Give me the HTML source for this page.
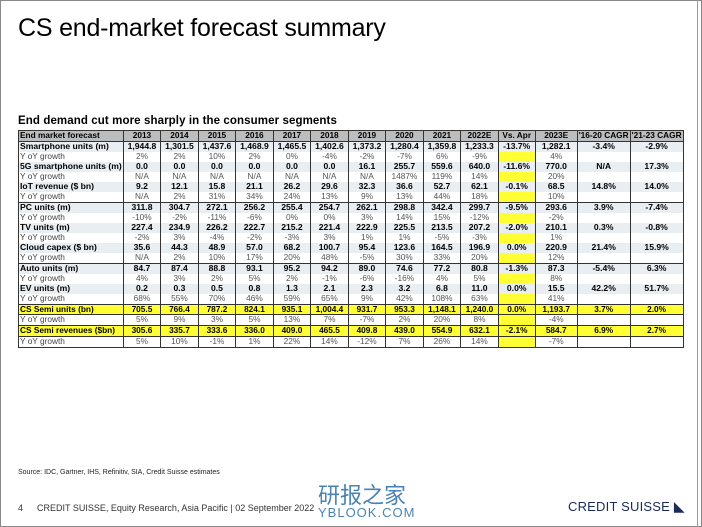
<!DOCTYPE html>
<html><head><meta charset="utf-8"><style>
body{margin:0;width:702px;height:527px;overflow:hidden;background:#fff;font-family:"Liberation Sans",sans-serif;position:relative}
.frame{position:absolute;left:0;top:0;width:700px;height:525px;border:1px solid #888}
.rline{position:absolute;left:697px;top:0;width:1px;height:527px;background:#999}
h1{position:absolute;left:18px;top:14px;margin:0;font-weight:normal;font-size:25px;letter-spacing:-0.2px;color:#000}
.sub{position:absolute;left:18px;top:115px;font-size:11.5px;font-weight:bold;letter-spacing:0.1px}
table{position:absolute;left:18px;top:130px;border-collapse:collapse;table-layout:fixed;font-size:8.3px;border:1.5px solid #333}
td{height:10.1px;padding:0 1px;line-height:9.8px;text-align:center;white-space:nowrap;overflow:hidden;border-left:1.5px solid #333;box-sizing:border-box}
td:first-child{text-align:left;border-left:none}
tr.h td{background:#bdbdbd;font-weight:bold;border-bottom:1.5px solid #333}
tr.b td{font-weight:bold;font-size:8.6px;background:#e9eef3}
tr.g td{color:#555}
tr.g td:first-child{color:#444}
tr.sep td{border-bottom:1.5px solid #333}
tr.y td{background:#ffff33;font-weight:bold;border-top:1.5px solid #333;border-bottom:1px solid #333}
td.va{background:#ffff33}
.src{position:absolute;left:18px;top:469px;font-size:7px;color:#222}
.foot{position:absolute;left:18px;top:503px;font-size:9px;color:#333}
.cs{position:absolute;left:568px;top:498px;font-size:13px;color:#1a2a5a;letter-spacing:0.2px}
.wm{position:absolute;left:318px;top:478px;font-family:"Noto Sans CJK SC",sans-serif;font-size:22px;color:#2a6ea8;opacity:.85}
.wm2{position:absolute;left:318px;top:505px;font-size:13px;color:#2a6ea8;opacity:.85;letter-spacing:1px}
</style></head><body>
<div class="frame"></div><div class="rline"></div>
<h1>CS end-market forecast summary</h1>
<div class="sub">End demand cut more sharply in the consumer segments</div>
<table>
<colgroup><col style="width:103px"><col style="width:37.5px"><col style="width:37.5px"><col style="width:37.5px"><col style="width:37.5px"><col style="width:37.5px"><col style="width:37.5px"><col style="width:37.5px"><col style="width:37.5px"><col style="width:37.5px"><col style="width:37.5px"><col style="width:37px"><col style="width:42px"><col style="width:50px"><col style="width:51px"></colgroup>
<tr class="h"><td>End market forecast</td><td>2013</td><td>2014</td><td>2015</td><td>2016</td><td>2017</td><td>2018</td><td>2019</td><td>2020</td><td>2021</td><td>2022E</td><td style="background:#bdbdbd">Vs. Apr</td><td>2023E</td><td>'16-20 CAGR</td><td>'21-23 CAGR</td></tr>
<tr class="b"><td>Smartphone units (m)</td><td>1,944.8</td><td>1,301.5</td><td>1,437.6</td><td>1,468.9</td><td>1,465.5</td><td>1,402.6</td><td>1,373.2</td><td>1,280.4</td><td>1,359.8</td><td>1,233.3</td><td class="va">-13.7%</td><td>1,282.1</td><td>-3.4%</td><td>-2.9%</td></tr>
<tr class="g"><td>Y oY growth</td><td>2%</td><td>2%</td><td>10%</td><td>2%</td><td>0%</td><td>-4%</td><td>-2%</td><td>-7%</td><td>6%</td><td>-9%</td><td class="va"></td><td>4%</td><td></td><td></td></tr>
<tr class="b"><td>5G smartphone units (m)</td><td>0.0</td><td>0.0</td><td>0.0</td><td>0.0</td><td>0.0</td><td>0.0</td><td>16.1</td><td>255.7</td><td>559.6</td><td>640.0</td><td class="va">-11.6%</td><td>770.0</td><td>N/A</td><td>17.3%</td></tr>
<tr class="g"><td>Y oY growth</td><td>N/A</td><td>N/A</td><td>N/A</td><td>N/A</td><td>N/A</td><td>N/A</td><td>N/A</td><td>1487%</td><td>119%</td><td>14%</td><td class="va"></td><td>20%</td><td></td><td></td></tr>
<tr class="b"><td>IoT revenue ($ bn)</td><td>9.2</td><td>12.1</td><td>15.8</td><td>21.1</td><td>26.2</td><td>29.6</td><td>32.3</td><td>36.6</td><td>52.7</td><td>62.1</td><td class="va">-0.1%</td><td>68.5</td><td>14.8%</td><td>14.0%</td></tr>
<tr class="g sep"><td>Y oY growth</td><td>N/A</td><td>2%</td><td>31%</td><td>34%</td><td>24%</td><td>13%</td><td>9%</td><td>13%</td><td>44%</td><td>18%</td><td class="va"></td><td>10%</td><td></td><td></td></tr>
<tr class="b"><td>PC units (m)</td><td>311.8</td><td>304.7</td><td>272.1</td><td>256.2</td><td>255.4</td><td>254.7</td><td>262.1</td><td>298.8</td><td>342.4</td><td>299.7</td><td class="va">-9.5%</td><td>293.6</td><td>3.9%</td><td>-7.4%</td></tr>
<tr class="g"><td>Y oY growth</td><td>-10%</td><td>-2%</td><td>-11%</td><td>-6%</td><td>0%</td><td>0%</td><td>3%</td><td>14%</td><td>15%</td><td>-12%</td><td class="va"></td><td>-2%</td><td></td><td></td></tr>
<tr class="b"><td>TV units (m)</td><td>227.4</td><td>234.9</td><td>226.2</td><td>222.7</td><td>215.2</td><td>221.4</td><td>222.9</td><td>225.5</td><td>213.5</td><td>207.2</td><td class="va">-2.0%</td><td>210.1</td><td>0.3%</td><td>-0.8%</td></tr>
<tr class="g"><td>Y oY growth</td><td>-2%</td><td>3%</td><td>-4%</td><td>-2%</td><td>-3%</td><td>3%</td><td>1%</td><td>1%</td><td>-5%</td><td>-3%</td><td class="va"></td><td>1%</td><td></td><td></td></tr>
<tr class="b"><td>Cloud capex ($ bn)</td><td>35.6</td><td>44.3</td><td>48.9</td><td>57.0</td><td>68.2</td><td>100.7</td><td>95.4</td><td>123.6</td><td>164.5</td><td>196.9</td><td class="va">0.0%</td><td>220.9</td><td>21.4%</td><td>15.9%</td></tr>
<tr class="g sep"><td>Y oY growth</td><td>N/A</td><td>2%</td><td>10%</td><td>17%</td><td>20%</td><td>48%</td><td>-5%</td><td>30%</td><td>33%</td><td>20%</td><td class="va"></td><td>12%</td><td></td><td></td></tr>
<tr class="b"><td>Auto units (m)</td><td>84.7</td><td>87.4</td><td>88.8</td><td>93.1</td><td>95.2</td><td>94.2</td><td>89.0</td><td>74.6</td><td>77.2</td><td>80.8</td><td class="va">-1.3%</td><td>87.3</td><td>-5.4%</td><td>6.3%</td></tr>
<tr class="g"><td>Y oY growth</td><td>4%</td><td>3%</td><td>2%</td><td>5%</td><td>2%</td><td>-1%</td><td>-6%</td><td>-16%</td><td>4%</td><td>5%</td><td class="va"></td><td>8%</td><td></td><td></td></tr>
<tr class="b"><td>EV units (m)</td><td>0.2</td><td>0.3</td><td>0.5</td><td>0.8</td><td>1.3</td><td>2.1</td><td>2.3</td><td>3.2</td><td>6.8</td><td>11.0</td><td class="va">0.0%</td><td>15.5</td><td>42.2%</td><td>51.7%</td></tr>
<tr class="g"><td>Y oY growth</td><td>68%</td><td>55%</td><td>70%</td><td>46%</td><td>59%</td><td>65%</td><td>9%</td><td>42%</td><td>108%</td><td>63%</td><td class="va"></td><td>41%</td><td></td><td></td></tr>
<tr class="y"><td>CS Semi units (bn)</td><td>705.5</td><td>766.4</td><td>787.2</td><td>824.1</td><td>935.1</td><td>1,004.4</td><td>931.7</td><td>953.3</td><td>1,148.1</td><td>1,240.0</td><td>0.0%</td><td>1,193.7</td><td>3.7%</td><td>2.0%</td></tr>
<tr class="g"><td>Y oY growth</td><td>5%</td><td>9%</td><td>3%</td><td>5%</td><td>13%</td><td>7%</td><td>-7%</td><td>2%</td><td>20%</td><td>8%</td><td class="va"></td><td>-4%</td><td></td><td></td></tr>
<tr class="y"><td>CS Semi revenues ($bn)</td><td>305.6</td><td>335.7</td><td>333.6</td><td>336.0</td><td>409.0</td><td>465.5</td><td>409.8</td><td>439.0</td><td>554.9</td><td>632.1</td><td>-2.1%</td><td>584.7</td><td>6.9%</td><td>2.7%</td></tr>
<tr class="g"><td>Y oY growth</td><td>5%</td><td>10%</td><td>-1%</td><td>1%</td><td>22%</td><td>14%</td><td>-12%</td><td>7%</td><td>26%</td><td>14%</td><td class="va"></td><td>-7%</td><td></td><td></td></tr>
</table>
<div class="src">Source: IDC, Gartner, IHS, Refinitiv, SIA, Credit Suisse estimates</div>
<div class="foot"><span style="margin-right:14px">4</span>CREDIT SUISSE, Equity Research, Asia Pacific | 02 September 2022</div>
<div class="wm">研报之家</div>
<div class="wm2">YBLOOK.COM</div>
<div class="cs">CREDIT SUISSE <span style="font-size:14px">◣</span></div>
</body></html>
